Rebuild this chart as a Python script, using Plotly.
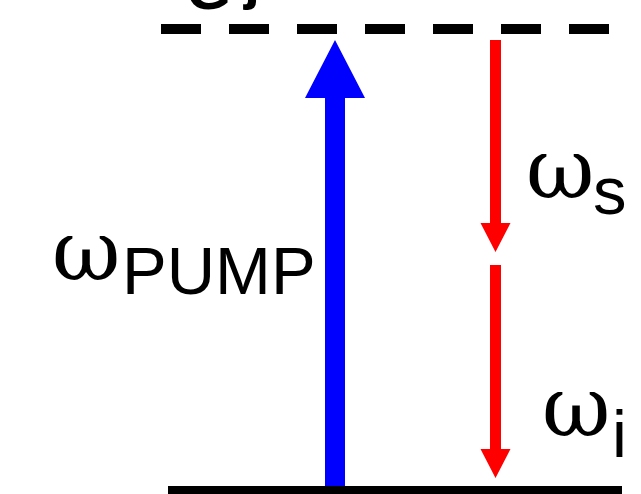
import plotly.graph_objects as go

# Diagram data (pixel-space coordinates on a 641x494 canvas, y downward)
level_names = ["virtual", "ground"]
level_y = [29, 491]
level_x0 = [161, 168]
level_x1 = [609, 622]

pump_x = 335
pump_top = 40
pump_bottom = 486

signal_x = 495.5
signal_top = [40, 265]
signal_tip = [252, 478]

labels = ["ω", "PUMP", "ω", "s", "ω", "i", "G", "j"]

W, H = 641, 494
fig = go.Figure()

# energy levels
fig.add_trace(go.Scatter(x=[level_x0[0], level_x1[0]], y=[level_y[0]] * 2, mode="lines",
                         line=dict(color="black", width=10, dash="40px,28px"), hoverinfo="skip"))
fig.add_trace(go.Scatter(x=[level_x0[1], level_x1[1]], y=[level_y[1]] * 2, mode="lines",
                         line=dict(color="black", width=10), hoverinfo="skip"))


def arrow(xc, y_from, y_tip, shaft_w, head_w, head_len, color):
    d = 1 if y_tip > y_from else -1
    yb = y_tip - d * head_len
    xs = [xc - shaft_w / 2, xc + shaft_w / 2, xc + shaft_w / 2, xc + head_w / 2, xc,
          xc - head_w / 2, xc - shaft_w / 2, xc - shaft_w / 2]
    ys = [y_from, y_from, yb, yb, y_tip, yb, yb, y_from]
    fig.add_trace(go.Scatter(x=xs, y=ys, fill="toself", fillcolor=color, mode="lines",
                             line=dict(color=color, width=0), hoverinfo="skip"))


arrow(pump_x, pump_bottom, pump_top, 20, 60, 58, "#0000ff")
arrow(signal_x, signal_top[0], signal_tip[0], 11, 30, 29, "#ff0000")
arrow(signal_x, signal_top[1], signal_tip[1], 11, 30, 29, "#ff0000")

serif = "DejaVu Serif"
sans = "Liberation Sans"
ann = [
    dict(x=50, y=302, text=labels[0], font=dict(family=serif, size=84)),
    dict(x=120, y=310, text=labels[1], font=dict(family=sans, size=67)),
    dict(x=524, y=220, text=labels[2], font=dict(family=serif, size=84)),
    dict(x=591, y=230, text=labels[3], font=dict(family=sans, size=67)),
    dict(x=540, y=458, text=labels[4], font=dict(family=serif, size=84)),
    dict(x=610, y=473, text=labels[5], font=dict(family=sans, size=67)),
    dict(x=184, y=23, text=labels[6], font=dict(family=sans, size=58, weight="bold")),
    dict(x=241, y=12, text=labels[7], font=dict(family=sans, size=58, weight="bold")),
]
for a in ann:
    fig.add_annotation(x=a["x"], y=a["y"], text=a["text"], showarrow=False,
                       xanchor="left", yanchor="bottom", font=dict(color="black", **a["font"]),
                       xref="x", yref="y")

fig.update_layout(width=W, height=H, margin=dict(l=0, r=0, t=0, b=0),
                  paper_bgcolor="white", plot_bgcolor="white", showlegend=False,
                  xaxis=dict(range=[0, W], visible=False, fixedrange=True),
                  yaxis=dict(range=[H, 0], visible=False, fixedrange=True))
fig.write_html("out.html", config={"displayModeBar": False},
               post_script="document.body.style.margin='0';document.body.style.overflow='hidden';")
